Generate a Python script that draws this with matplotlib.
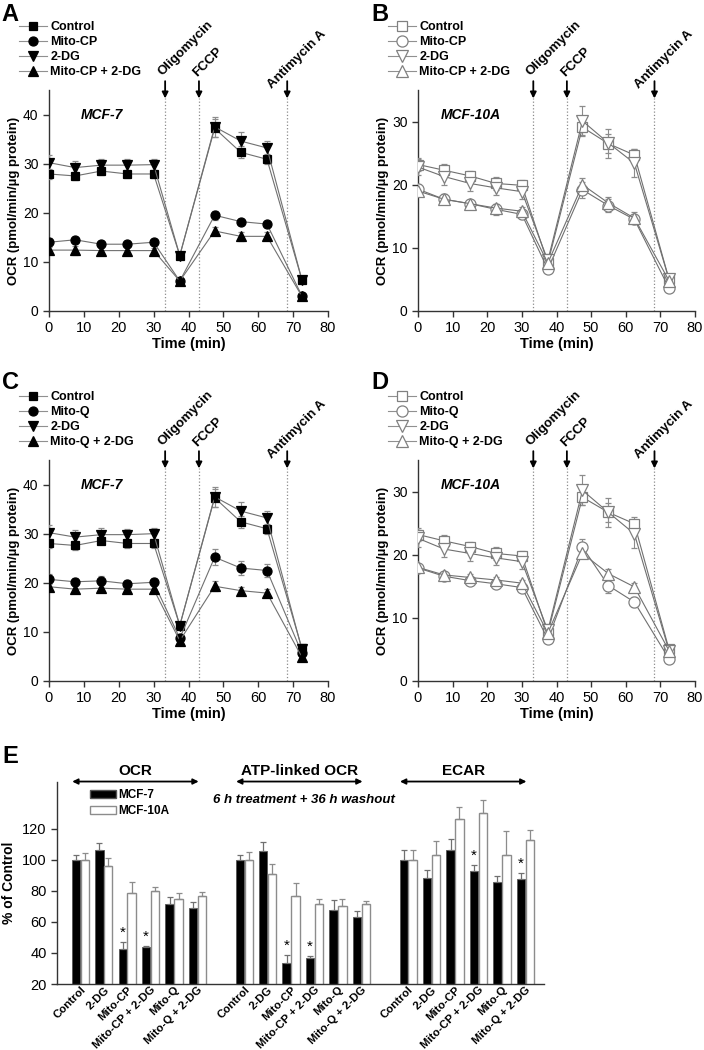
import numpy as np
import matplotlib
matplotlib.use("Agg")
import matplotlib.pyplot as plt
from matplotlib.lines import Line2D
from matplotlib.patches import Patch
from matplotlib.transforms import blended_transform_factory

plt.rcParams['font.family'] = ['Liberation Sans', 'DejaVu Sans']

# ---------------- data: Seahorse OCR time courses ----------------
time_min = [0, 7.5, 15, 22.5, 30, 37.5, 47.5, 55, 62.5, 72.5]
injections = ['Oligomycin', 'FCCP', 'Antimycin A']
inj_times = [33.3, 43.0, 68.3]

# A: MCF-7, Mito-CP
a_control = [27.9, 27.5, 28.5, 27.9, 27.9, 11.3, 37.2, 32.3, 30.9, 6.4]
a_control_err = [1.0, 0.9, 0.8, 0.9, 0.9, 0.8, 1.8, 1.2, 1.0, 0.6]
a_mito = [14.0, 14.5, 13.6, 13.6, 14.0, 6.1, 19.5, 18.2, 17.7, 3.1]
a_mito_err = [0.8, 0.6, 0.6, 0.6, 0.6, 0.6, 0.9, 0.6, 0.6, 0.4]
a_dg = [30.2, 29.2, 29.7, 29.7, 29.8, 11.3, 37.5, 34.6, 33.2, 6.4]
a_dg_err = [1.5, 1.4, 1.3, 1.2, 1.2, 0.8, 2.0, 1.8, 1.5, 0.6]
a_combo = [12.4, 12.4, 12.3, 12.3, 12.3, 6.1, 16.3, 15.2, 15.2, 3.0]
a_combo_err = [0.7, 0.9, 0.6, 0.7, 0.6, 0.5, 0.8, 0.9, 0.8, 0.4]

# B: MCF-10A, Mito-CP
b_control = [23.2, 22.3, 21.4, 20.2, 19.9, 7.6, 29.1, 26.5, 24.7, 5.0]
b_control_err = [1.0, 1.0, 0.7, 1.0, 0.8, 0.8, 1.2, 1.5, 1.0, 0.6]
b_mito = [19.3, 17.7, 17.0, 16.1, 15.3, 6.6, 19.2, 16.7, 14.5, 3.6]
b_mito_err = [0.8, 0.8, 0.6, 0.9, 0.7, 0.6, 1.3, 1.0, 0.6, 0.4]
b_dg = [22.8, 21.3, 20.2, 19.5, 18.9, 8.0, 30.1, 26.6, 23.4, 5.0]
b_dg_err = [1.3, 1.3, 1.2, 1.2, 1.1, 1.0, 2.4, 2.3, 2.2, 0.6]
b_combo = [19.0, 17.7, 17.0, 16.3, 15.8, 7.6, 20.0, 17.1, 14.7, 4.8]
b_combo_err = [0.7, 0.8, 0.6, 0.7, 0.6, 0.6, 1.0, 0.9, 1.0, 0.4]

# C: MCF-7, Mito-Q
c_control = [28.0, 27.6, 28.6, 28.0, 28.0, 11.3, 37.3, 32.4, 31.0, 6.7]
c_control_err = [1.0, 0.9, 0.8, 0.9, 0.9, 0.8, 1.8, 1.2, 1.0, 0.6]
c_mito = [20.7, 20.2, 20.4, 19.8, 20.1, 8.7, 25.2, 23.0, 22.5, 5.7]
c_mito_err = [1.0, 0.8, 0.9, 0.8, 0.8, 0.8, 1.6, 1.5, 1.3, 0.5]
c_dg = [30.2, 29.3, 29.8, 29.8, 30.0, 11.3, 37.5, 34.6, 33.2, 6.5]
c_dg_err = [1.5, 1.4, 1.3, 1.2, 1.2, 0.8, 2.0, 1.8, 1.5, 0.6]
c_combo = [19.2, 18.7, 18.9, 18.7, 18.7, 8.2, 19.3, 18.4, 17.9, 4.9]
c_combo_err = [0.8, 0.8, 0.7, 0.8, 0.7, 0.8, 1.0, 0.8, 0.8, 0.5]

# D: MCF-10A, Mito-Q
d_control = [23.2, 22.2, 21.3, 20.2, 19.8, 7.6, 29.1, 26.7, 24.9, 5.0]
d_control_err = [1.0, 1.0, 0.7, 1.0, 0.8, 0.8, 1.2, 1.5, 1.0, 0.6]
d_mito = [17.9, 16.6, 15.9, 15.4, 14.8, 6.6, 21.2, 15.1, 12.5, 3.5]
d_mito_err = [0.6, 0.6, 0.6, 0.7, 0.6, 0.6, 1.3, 1.1, 0.8, 0.4]
d_dg = [22.6, 20.9, 20.2, 19.5, 18.9, 8.0, 30.2, 26.7, 23.3, 4.8]
d_dg_err = [1.3, 1.3, 1.2, 1.2, 1.1, 1.0, 2.4, 2.3, 2.2, 0.6]
d_combo = [18.0, 16.8, 16.4, 16.0, 15.5, 7.6, 20.2, 17.0, 14.9, 4.8]
d_combo_err = [0.5, 0.5, 0.5, 0.5, 0.5, 0.5, 0.7, 0.8, 0.6, 0.4]

# ---------------- data: panel E (% of control) ----------------
e_groups = ['OCR', 'ATP-linked OCR', 'ECAR']
e_treatments = ['Control', '2-DG', 'Mito-CP', 'Mito-CP + 2-DG', 'Mito-Q', 'Mito-Q + 2-DG']
e_mcf7 = [[100, 106, 42.5, 44.0, 71.5, 69.0],
          [100, 105.8, 33.3, 37.0, 67.5, 63.2],
          [100, 88.4, 106.2, 93.0, 85.6, 87.7]]
e_mcf7_err = [[3.0, 4.7, 4.4, 0.5, 4.7, 3.8],
              [3.0, 5.8, 5.1, 1.1, 6.8, 4.1],
              [6.0, 4.9, 6.8, 3.5, 3.9, 3.7]]
e_mcf10a = [[100, 95.7, 78.6, 80.0, 74.8, 76.5],
            [100, 90.6, 76.5, 71.6, 70.0, 71.6],
            [100, 103.0, 126.2, 130.1, 103.2, 112.5]]
e_mcf10a_err = [[4.3, 5.2, 6.9, 2.4, 3.6, 2.5],
                [4.9, 6.4, 8.5, 3.4, 4.8, 1.9],
                [6.0, 9.3, 7.8, 8.6, 15.1, 6.9]]
e_star_mcf7 = [[2, 3], [2, 3], [3, 5]]

W, H = 704, 1050
fig = plt.figure(figsize=(W / 100, H / 100), dpi=100)


def px_axes(left, top, right, bottom):
    return fig.add_axes([left / W, 1 - bottom / H, (right - left) / W, (bottom - top) / H])


def style_axes(ax):
    for s in ['top', 'right']:
        ax.spines[s].set_visible(False)
    for s in ['left', 'bottom']:
        ax.spines[s].set_color('#333333')
        ax.spines[s].set_linewidth(1.0)
    ax.tick_params(direction='out', length=4, width=1.0, color='#333333')


def ocr_panel(ax, series, names, filled, ymax, cell, legend_xy):
    style_axes(ax)
    markers = ['s', 'o', 'v', '^']
    sizes = [6, 6.5, 7, 7] if filled else [7.5, 8, 8.5, 8.5]
    handles = []
    for (vals, errs), m, ms in zip(series, markers, sizes):
        mfc = 'black' if filled else 'white'
        mec = 'black' if filled else '#808080'
        ax.errorbar(time_min, vals, yerr=errs, color='#707070', lw=0.8,
                    marker=m, ms=ms, mfc=mfc, mec=mec, mew=0.9,
                    ecolor='#8c8c8c', elinewidth=0.8, capsize=2.5, capthick=0.8, zorder=3)
        handles.append(Line2D([], [], color='#909090', lw=0.8, marker=m, ms=ms,
                              mfc=mfc, mec=mec, mew=0.9))
    ax.set_xlim(0, 80)
    ax.set_ylim(0, ymax)
    ax.set_xticks(range(0, 81, 10))
    ax.set_yticks(np.arange(0, ymax, 10))
    ax.tick_params(axis='x', labelsize=10.5)
    ax.tick_params(axis='y', labelsize=10)
    ax.set_xlabel('Time (min)', fontsize=10.5, fontweight='bold', labelpad=1)
    ax.set_ylabel('OCR (pmol/min/\u00b5g protein)', fontsize=9.5, fontweight='bold', labelpad=2)
    ax.text(15.3, ymax * 0.889, cell, fontsize=10, fontweight='bold', style='italic',
            ha='center', va='center')
    trans = blended_transform_factory(ax.transData, ax.transAxes)
    text_pos = [(32.6, 1.062), (42.6, 1.058), (63.9, 1.004)]
    for name, t, (tx, ty) in zip(injections, inj_times, text_pos):
        ax.plot([t, t], [0, 0.965], transform=trans, ls=':', color='#8c8c8c', lw=0.9,
                clip_on=False, zorder=1)
        ax.annotate('', xy=(t, 0.962), xytext=(t, 1.04), xycoords=trans, textcoords=trans,
                    arrowprops=dict(arrowstyle='-|>', color='black', lw=1.3,
                                    mutation_scale=9, shrinkA=0, shrinkB=0))
        ax.text(tx, ty, name, transform=trans, rotation=45, rotation_mode='anchor',
                ha='left', va='baseline', fontsize=9.5, fontweight='bold', clip_on=False)
    ax.legend(handles, names, loc='upper left', bbox_to_anchor=legend_xy,
              bbox_transform=fig.transFigure, frameon=False,
              prop={'weight': 'bold', 'size': 9}, handlelength=2.2, handletextpad=0.3,
              labelspacing=0.25, borderpad=0, borderaxespad=0)


ax_a = px_axes(49, 90, 328, 311)
ocr_panel(ax_a, [(a_control, a_control_err), (a_mito, a_mito_err), (a_dg, a_dg_err), (a_combo, a_combo_err)],
          ['Control', 'Mito-CP', '2-DG', 'Mito-CP + 2-DG'], True, 45, 'MCF-7', (19 / W, 1 - 21 / H))
ax_b = px_axes(418, 90, 695, 311)
ocr_panel(ax_b, [(b_control, b_control_err), (b_mito, b_mito_err), (b_dg, b_dg_err), (b_combo, b_combo_err)],
          ['Control', 'Mito-CP', '2-DG', 'Mito-CP + 2-DG'], False, 35, 'MCF-10A', (388 / W, 1 - 21 / H))
ax_c = px_axes(49, 460, 328, 681)
ocr_panel(ax_c, [(c_control, c_control_err), (c_mito, c_mito_err), (c_dg, c_dg_err), (c_combo, c_combo_err)],
          ['Control', 'Mito-Q', '2-DG', 'Mito-Q + 2-DG'], True, 45, 'MCF-7', (19 / W, 1 - 391 / H))
ax_d = px_axes(418, 460, 695, 681)
ocr_panel(ax_d, [(d_control, d_control_err), (d_mito, d_mito_err), (d_dg, d_dg_err), (d_combo, d_combo_err)],
          ['Control', 'Mito-Q', '2-DG', 'Mito-Q + 2-DG'], False, 35, 'MCF-10A', (388 / W, 1 - 391 / H))

# ---------------- panel E ----------------
ax_e = px_axes(57, 782, 544, 984)
style_axes(ax_e)
group_start = [0, 7, 14]
bw = 0.36
tick_pos, tick_lab = [], []
for gi, g0 in enumerate(group_start):
    x = np.arange(len(e_treatments)) + g0
    ax_e.bar(x - 0.19, e_mcf7[gi], bw, color='black', edgecolor='#555555', lw=0.6,
             yerr=[np.zeros(6), e_mcf7_err[gi]], ecolor='#707070',
             error_kw=dict(elinewidth=0.9, capsize=2.5, capthick=0.9), zorder=2)
    ax_e.bar(x + 0.19, e_mcf10a[gi], bw, color='white', edgecolor='#8c8c8c', lw=1.0,
             yerr=[np.zeros(6), e_mcf10a_err[gi]], ecolor='#8c8c8c',
             error_kw=dict(elinewidth=0.9, capsize=2.5, capthick=0.9), zorder=2)
    for k in e_star_mcf7[gi]:
        ax_e.text(x[k] - 0.19, e_mcf7[gi][k] + e_mcf7_err[gi][k] + 1.5, '*',
                  ha='center', va='bottom', fontsize=11)
    tick_pos.extend(x)
    tick_lab.extend(e_treatments)
    ax_e.annotate('', xy=(g0 - 0.35, 150.3), xytext=(g0 + 5.05, 150.3),
                  arrowprops=dict(arrowstyle='<|-|>', color='black', lw=1.3,
                                  mutation_scale=8, shrinkA=0, shrinkB=0),
                  annotation_clip=False)
    ax_e.text(g0 + 2.35, 157, e_groups[gi], ha='center', va='center',
              fontsize=11, fontweight='bold')

ax_e.set_xlim(-1, 19.8)
ax_e.set_ylim(20, 150)
ax_e.set_yticks(range(20, 121, 20))
ax_e.tick_params(axis='y', labelsize=10.5)
ax_e.set_xticks(tick_pos)
ax_e.set_xticklabels(tick_lab, rotation=45, ha='right', rotation_mode='anchor',
                     fontsize=8.2, fontweight='bold')
ax_e.tick_params(axis='x', length=0, pad=0.5)
ax_e.set_ylabel('% of Control', fontsize=10, fontweight='bold', labelpad=4)
ax_e.text(9.55, 138.7, '6 h treatment + 36 h washout', ha='center', va='center',
          fontsize=9.5, fontweight='bold', style='italic')
ax_e.legend([Patch(facecolor='black', edgecolor='#555555'),
             Patch(facecolor='white', edgecolor='#8c8c8c')], ['MCF-7', 'MCF-10A'],
            loc='upper left', bbox_to_anchor=(90 / W, 1 - 789 / H), bbox_transform=fig.transFigure,
            frameon=False, prop={'weight': 'bold', 'size': 8.5}, handlelength=2.2,
            handleheight=0.6, handletextpad=0.2, labelspacing=0.35, borderpad=0, borderaxespad=0)

# panel letters
for lab, (px, py) in zip('ABCDE', [(1, 3), (371, 3), (2, 371), (371, 371), (2, 745)]):
    fig.text(px / W, 1 - py / H, lab, fontsize=17, fontweight='bold', ha='left', va='top')

fig.savefig('out.png', dpi=100)
